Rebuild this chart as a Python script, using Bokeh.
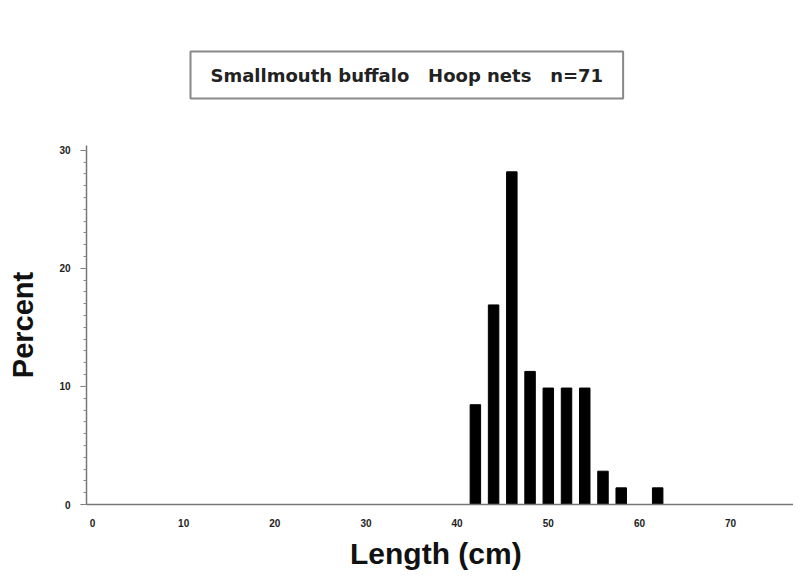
from bokeh.plotting import figure
from bokeh.models import Range1d, FixedTicker, SingleIntervalTicker, Title
from bokeh.embed import file_html
from bokeh.resources import INLINE

# Data (length-class midpoints in cm, percent of catch)
length_cm = [42, 44, 46, 48, 50, 52, 54, 56, 58, 62]
percent = [8.45, 16.90, 28.17, 11.27, 9.86, 9.86, 9.86, 2.82, 1.41, 1.41]
x_ticks = [0, 10, 20, 30, 40, 50, 60, 70]
NB = "\u00a0"
title_text = "Smallmouth buffalo" + NB * 3 + "Hoop nets" + NB * 3 + "n=71"

p = figure(width=793, height=573, output_backend="svg", toolbar_location=None,
           x_range=Range1d(-0.66, 76.9), y_range=Range1d(0, 30.4),
           min_border_left=86, min_border_right=0, min_border_top=145,
           min_border_bottom=69)
p.outline_line_color = None
p.xgrid.grid_line_color = None
p.ygrid.grid_line_color = None
p.background_fill_color = "white"
p.border_fill_color = "white"

p.vbar(x=length_cm, top=percent, width=1.15, bottom=0,
       fill_color="black", line_color="black")

# Title box
t = Title(text=title_text, align="left", offset=104, standoff=90,
          vertical_align="top",
          text_font="DejaVu Sans", text_font_style="bold",
          text_font_size="18px", text_color="#222222",
          border_line_color="#888888", border_line_width=2,
          background_fill_color="white", padding=(20, 13))
p.add_layout(t, "above")

# X axis
xa = p.xaxis[0]
xa.ticker = FixedTicker(ticks=x_ticks)
xa.major_tick_out = 0
xa.major_tick_in = 0
xa.minor_tick_out = 0
xa.minor_tick_in = 0
xa.axis_line_color = "#777777"
xa.axis_line_width = 1.5
xa.major_label_text_font = "Liberation Sans"
xa.major_label_text_font_style = "bold"
xa.major_label_text_font_size = "10px"
xa.major_label_text_color = "#222222"
xa.major_label_standoff = 14
xa.axis_label = "Length  (cm)"
xa.axis_label_text_font = "Liberation Sans"
xa.axis_label_text_font_style = "bold"
xa.axis_label_text_font_size = "30px"
xa.axis_label_text_color = "#111111"
xa.axis_label_standoff = 7

# Y axis
ya = p.yaxis[0]
ya.ticker = SingleIntervalTicker(interval=10, num_minor_ticks=10)
ya.major_tick_out = 6
ya.major_tick_in = 0
ya.minor_tick_out = 3
ya.minor_tick_in = 0
ya.major_tick_line_color = "#777777"
ya.minor_tick_line_color = "#888888"
ya.axis_line_color = "#777777"
ya.axis_line_width = 1.5
ya.major_label_text_font = "Liberation Sans"
ya.major_label_text_font_style = "bold"
ya.major_label_text_font_size = "10px"
ya.major_label_text_color = "#222222"
ya.major_label_standoff = 10
ya.axis_label = "Percent"
ya.axis_label_text_font = "Liberation Sans"
ya.axis_label_text_font_style = "bold"
ya.axis_label_text_font_size = "29px"
ya.axis_label_text_color = "#111111"
ya.axis_label_standoff = 17

open("out.html", "w").write(file_html(p, INLINE))
